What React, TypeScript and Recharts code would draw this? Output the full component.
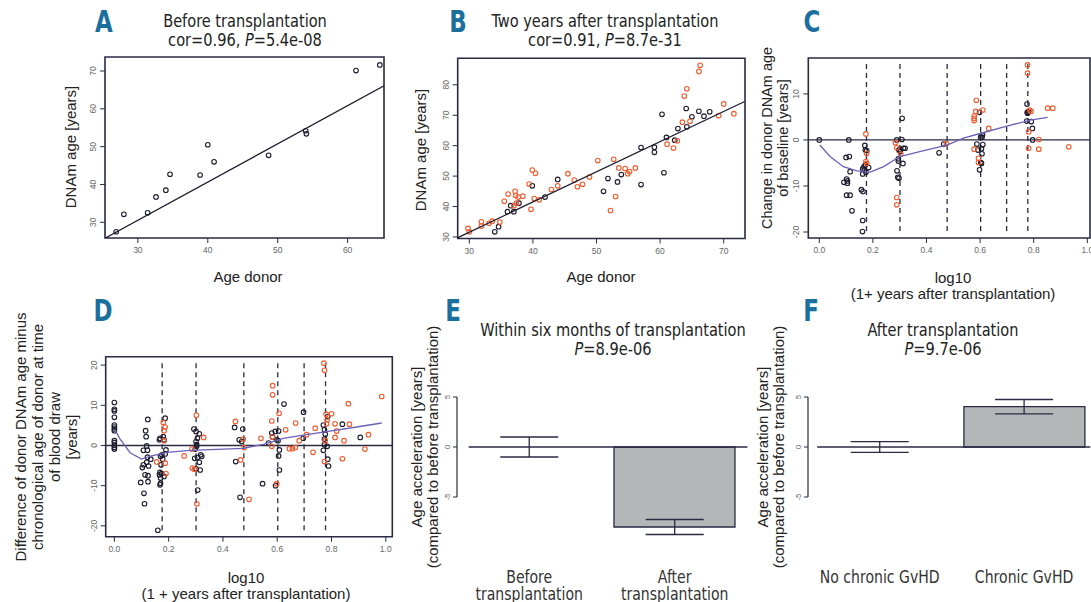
import React from 'react';
import {
  ScatterChart, Scatter, ComposedChart, Bar, ErrorBar,
  XAxis, YAxis, ReferenceLine, ReferenceArea,
} from 'recharts';

const PAGE_W = 1091;
const PAGE_H = 602;
const AXW = 30;
const AXH = 30;

const BLACK = '#1c1c2e';
const ORANGE = '#f05a2c';
const LOESS = '#6a62b8';
const FRAME = '#2a2a44';
const BLUE = '#1b6f9c';
const NARROW = "'Liberation Sans Narrow', 'DejaVu Sans Condensed', sans-serif";
const SANS = "'Liberation Sans', Arial, sans-serif";

// A: before transplantation, donor age vs DNAm age
const aPoints = [
  [26.9, 27.5], [28.0, 32.1], [31.4, 32.5], [32.6, 36.7], [34.0, 38.5], [34.6, 42.7], [38.9, 42.5],
  [40.0, 50.5], [40.9, 46.0], [48.7, 47.7], [54.0, 54.2], [54.1, 53.4], [61.2, 70.1], [64.6, 71.6],
];
const aFit = [[25.3, 25.8], [65.2, 66.1]];

// B: two years after transplantation
const bBlack = [
  [34.0, 31.7], [34.6, 33.4], [36.0, 38.3], [36.5, 40.3], [37.0, 38.3], [37.8, 41.1], [39.9, 46.8],
  [41.9, 43.1], [43.9, 48.9], [51.1, 45.0], [51.8, 49.2], [53.3, 48.1], [53.9, 50.5], [57.0, 59.4],
  [57.0, 47.2], [59.1, 57.8], [59.1, 59.5], [60.3, 70.3], [60.6, 51.1], [61.0, 62.7], [62.3, 61.8],
  [62.8, 65.6], [64.1, 72.2], [64.2, 66.2], [65.0, 69.5], [66.1, 71.3], [66.9, 69.7], [67.8, 71.1],
];
const bOrange = [
  [29.8, 32.8], [30.0, 31.7], [31.9, 35.0], [31.9, 33.6], [33.1, 34.5], [33.6, 35.2], [34.8, 34.9],
  [35.5, 41.7], [36.1, 44.1], [37.0, 40.3], [37.2, 45.0], [37.3, 43.6], [37.4, 41.1], [38.4, 43.4],
  [37.7, 43.1], [39.4, 47.4], [39.7, 39.1], [39.9, 52.0], [40.2, 42.6], [40.4, 50.9], [41.0, 42.2],
  [42.9, 45.6], [43.9, 46.8], [45.5, 50.8], [46.5, 48.7], [47.0, 46.5], [47.8, 47.3], [48.9, 49.7],
  [50.2, 55.1], [52.2, 38.7], [52.7, 55.5], [53.0, 43.3], [53.5, 52.7], [54.5, 52.5], [54.9, 50.8],
  [55.2, 51.5], [56.1, 52.7], [61.1, 60.5], [62.1, 59.2], [62.7, 61.6], [63.5, 67.7], [63.8, 76.3],
  [64.2, 78.7], [64.7, 68.0], [66.1, 84.4], [66.3, 86.4], [69.2, 69.9], [70.0, 73.7], [71.6, 70.5],
];
const bFit = [[28.2, 29.8], [73.3, 74.5]];

// log10(1 + years) marks drawn as dashed lines in C and D
const yearMarks = [0.176, 0.301, 0.477, 0.602, 0.699, 0.778];

// C: change in donor DNAm age relative to baseline
const cBlack = [
  [0, 0], [0.110, 0], [0.100, -3.8], [0.112, -3.6], [0.115, -6.9], [0.092, -9.2], [0.102, -8.5],
  [0.105, -8.9], [0.105, -9.4], [0.102, -12.0], [0.115, -12.0], [0.122, -15.4], [0.157, -10.8],
  [0.163, -11.2], [0.162, -17.5], [0.161, -19.9], [0.170, -1.2], [0.172, -2.2], [0.177, -2.3],
  [0.167, -5.8], [0.162, -6.3], [0.168, -6.5], [0.174, -7.0], [0.162, -7.4], [0.184, -6.0],
  [0.172, -5.4], [0.289, 0], [0.301, -2.0], [0.297, -2.2], [0.309, 4.7], [0.308, 0.1], [0.314, -1.8],
  [0.320, -1.8], [0.295, -4.1], [0.295, -4.6], [0.290, -6.7], [0.293, -8.1], [0.297, -8.3],
  [0.312, -5.1], [0.302, -2.5], [0.447, -2.8], [0.464, -0.9], [0.598, 6.0], [0.602, 0.6],
  [0.609, 1.1], [0.607, 0.6], [0.610, -1.0], [0.588, -0.9], [0.592, -2.2], [0.605, -1.9],
  [0.607, -3.0], [0.603, -4.9], [0.605, -5.1], [0.598, -6.5], [0.775, 7.8], [0.776, 6.0],
  [0.777, 5.8], [0.774, 4.1], [0.791, 4.0], [0.795, 2.5], [0.796, 0.0], [0.781, 6.2],
];
const cOrange = [
  [0.174, 1.3], [0.177, -2.9], [0.174, -4.7], [0.177, -5.1], [0.284, -0.6], [0.289, -1.7],
  [0.289, -12.5], [0.289, -14.1], [0.304, -3.1], [0.474, -0.8], [0.586, 8.6], [0.584, 6.2],
  [0.578, 5.2], [0.578, 4.7], [0.578, 4.2], [0.578, -2.0], [0.594, -4.0], [0.594, -4.9],
  [0.610, 6.5], [0.632, 2.5], [0.777, 16.3], [0.777, 14.5], [0.785, 6.5], [0.790, 6.2],
  [0.781, 1.8], [0.781, -1.8], [0.819, 0.1], [0.819, -2.0], [0.852, 6.9], [0.871, 6.9], [0.931, -1.5],
];
const cLoess = [
  [0.002, -1.1], [0.04, -3.6], [0.09, -5.8], [0.14, -6.7], [0.19, -7.0], [0.24, -5.8], [0.30, -3.6],
  [0.39, -2.3], [0.476, -1.1], [0.538, 0.4], [0.60, 1.4], [0.70, 3.0], [0.787, 4.3], [0.852, 4.9],
];

// D: DNAm age minus chronological age of donor at blood draw
const dBlack = [
  [0, 10.7], [0, 9.0], [0, 8.6], [0, 7.0], [0, 5.1], [0, 4.6], [0, 4.1], [0, 3.7], [0, 1.2], [0, 0.7],
  [0, 0], [0, -0.5], [0, -0.9],
  [0.097, -9.2], [0.103, -5.5], [0.107, -4.8], [0.109, -11.9], [0.111, -14.5], [0.107, -1.2],
  [0.113, -7.3], [0.115, 3.7], [0.117, 2.2], [0.119, -0.1], [0.122, -2.9], [0.123, 6.5],
  [0.122, -1.2], [0.124, -7.5], [0.124, -9.0], [0.126, -5.1], [0.119, -4.2], [0.134, -3.4],
  [0.160, -21.1], [0.166, 1.4], [0.168, 1.8], [0.170, -9.4], [0.168, -9.8], [0.170, -8.1],
  [0.168, -6.7], [0.174, -7.0], [0.172, -4.8], [0.175, -2.3], [0.170, -2.7], [0.178, -3.4],
  [0.180, 2.2], [0.183, 1.4], [0.187, 6.8], [0.187, -2.1], [0.190, -1.1], [0.166, -7.3], [0.183, -7.7],
  [0.293, 4.1], [0.301, 3.5], [0.313, 2.9], [0.301, 1.0], [0.306, 1.8], [0.303, -0.2], [0.298, -0.9],
  [0.296, -3.2], [0.306, -3.0], [0.313, -4.2], [0.318, -2.3], [0.322, -2.7], [0.301, -5.8],
  [0.316, -6.1], [0.307, -11.1], [0.303, 0.2],
  [0.443, 4.5], [0.473, 4.1], [0.460, 1.4], [0.469, 1.0], [0.447, -4.0], [0.463, -12.9],
  [0.546, -9.5], [0.568, 0.6], [0.580, 3.1], [0.583, 2.1], [0.593, 3.5], [0.598, 1.4], [0.603, 1.2],
  [0.605, 3.6], [0.608, -1.1], [0.605, -2.6], [0.608, -6.1], [0.594, -10.0], [0.625, 10.3],
  [0.696, 1.8], [0.697, 8.3], [0.770, 5.1], [0.774, 3.9], [0.777, 2.8], [0.774, 1.6], [0.774, 0.2],
  [0.770, -1.2], [0.786, 7.2], [0.784, -0.2], [0.786, -3.4], [0.789, -5.1], [0.840, 5.3], [0.906, 2.0],
];
const dOrange = [
  [0.180, 5.7], [0.183, 3.7], [0.183, 1.2], [0.187, 4.6], [0.187, -4.4], [0.190, -7.0], [0.156, -4.1],
  [0.257, -2.6], [0.286, -0.9], [0.287, -5.6], [0.295, -5.9], [0.302, 7.5], [0.304, -14.5],
  [0.329, 2.0], [0.446, 6.0], [0.465, -3.6], [0.475, 1.6], [0.478, -0.5], [0.496, -13.4],
  [0.540, 1.8], [0.580, 6.1], [0.583, 12.6], [0.583, 14.9], [0.580, -0.2], [0.582, 2.1],
  [0.607, 8.0], [0.598, -9.5], [0.631, 3.9], [0.645, -0.8], [0.656, -0.8], [0.667, -0.5],
  [0.668, 5.6], [0.681, 1.2], [0.708, 2.7], [0.732, -1.7], [0.740, 4.3], [0.772, 20.5],
  [0.774, 18.7], [0.774, -4.0], [0.777, 1.2], [0.780, 7.8], [0.782, 5.4], [0.784, 6.4], [0.800, 7.9],
  [0.813, 5.4], [0.819, 3.6], [0.813, 2.0], [0.840, -3.3], [0.846, 1.2], [0.862, 10.4], [0.866, 5.3],
  [0.923, -0.9], [0.936, 2.7], [0.985, 12.2],
];
const dLoess = [
  [0.002, 3.9], [0.021, 1.6], [0.058, -1.8], [0.10, -3.4], [0.138, -2.6], [0.193, -1.7], [0.279, -1.2],
  [0.401, -0.9], [0.475, -0.7], [0.549, 0.3], [0.622, 1.8], [0.708, 2.7], [0.794, 3.6], [0.893, 4.6],
  [0.985, 5.6],
];

// E / F: age acceleration bars (mean and standard error)
const barPos = [0.7, 1.9];
const eLabels = ['Before\ntransplantation', 'After\ntransplantation'];
const eMeans = [0, -8.0];
const eErrors = [1.0, 0.75];
const fLabels = ['No chronic GvHD', 'Chronic GvHD'];
const fMeans = [0, 4.03];
const fErrors = [0.53, 0.72];

const toXY = (pts: number[][]) => pts.map(([x, y]) => ({ x, y }));
const fmt1 = (v: number) => v.toFixed(1);

const RotTick = (props: any) => {
  const { x, y, payload, fontSize = 8.5 } = props;
  return (
    <text x={x} y={y} transform={`rotate(-90 ${x} ${y})`} textAnchor="middle"
      fontSize={fontSize} fill="#666" fontFamily={SANS}>{payload.value}</text>
  );
};

const circle = (color: string) => (p: any) => (
  <circle cx={p.cx} cy={p.cy} r={2.3} fill="none" stroke={color} strokeWidth={1.1} />
);
const noDot = () => <g />;

function Txt({ x, y, size = 15, font = SANS, rotate = false, bold = false, color = '#222', lh, sx = 1, children }: any) {
  return (
    <div style={{
      position: 'absolute', left: x, top: y, fontSize: size, fontFamily: font, color,
      transform: `translate(-50%, -50%)${rotate ? ' rotate(-90deg)' : ''}${sx !== 1 ? ` scaleX(${sx})` : ''}`,
      whiteSpace: 'pre', textAlign: 'center', lineHeight: lh ? `${lh}px` : 1.15,
      fontWeight: bold ? 700 : 400,
    }}>{children}</div>
  );
}

function ScatterPanel({ rect, xDomain, yDomain, xTicks, yTicks, xFmt, points, lines, marks, markSpan, zero }: any) {
  const [x0, y0, x1, y1] = rect;
  return (
    <div style={{ position: 'absolute', left: 0, top: 0 }}>
      <ScatterChart width={PAGE_W} height={PAGE_H}
        margin={{ left: x0 - AXW, top: y0, right: PAGE_W - x1, bottom: PAGE_H - y1 - AXH }}>
        <XAxis type="number" dataKey="x" domain={xDomain} ticks={xTicks} allowDataOverflow interval={0}
          axisLine={false} tickLine={{ stroke: FRAME }} tickSize={5} tickMargin={4} height={AXH}
          tick={{ fontSize: 8.5, fill: '#666', fontFamily: SANS }} tickFormatter={xFmt} />
        <YAxis type="number" dataKey="y" domain={yDomain} ticks={yTicks} allowDataOverflow interval={0}
          axisLine={false} tickLine={{ stroke: FRAME }} tickSize={5} tickMargin={4} width={AXW}
          tick={<RotTick />} />
        {zero && <ReferenceLine y={0} stroke={FRAME} strokeWidth={1.3} />}
        {marks && marks.map((m: number) => (
          <ReferenceLine key={m} segment={[{ x: m, y: markSpan[0] }, { x: m, y: markSpan[1] }]}
            stroke={FRAME} strokeWidth={1.3} strokeDasharray="5 4" />
        ))}
        {points.map((s: any, i: number) => (
          <Scatter key={'p' + i} data={toXY(s.data)} shape={circle(s.color)} isAnimationActive={false} />
        ))}
        {lines.map((s: any, i: number) => (
          <Scatter key={'l' + i} data={toXY(s.data)} line={{ stroke: s.color, strokeWidth: 1.3 }}
            shape={noDot} isAnimationActive={false} />
        ))}
        <ReferenceArea x1={xDomain[0]} x2={xDomain[1]} y1={yDomain[0]} y2={yDomain[1]} ifOverflow="visible"
          fill="none" stroke={FRAME} strokeWidth={1.6} />
      </ScatterChart>
    </div>
  );
}

function BarPanel({ plotLeft, plotRight, xDomain, labels, means, errors, zeroSeg }: any) {
  const data = barPos.map((p, i) => ({ pos: p, mean: means[i], err: errors[i] }));
  const top = 367;
  const bottom = 547;
  const xh = 50;
  const CatTick = (props: any) => {
    const { x, y, payload } = props;
    const lines = labels[barPos.indexOf(payload.value)].split('\n');
    return (
      <text x={x} y={y + 36} textAnchor="middle" fontFamily={NARROW} fontSize={17} fill="#333"
        transform={`translate(${x} 0) scale(0.92 1) translate(${-x} 0)`}>
        {lines.map((l: string, i: number) => <tspan key={i} x={x} dy={i === 0 ? 0 : 17}>{l}</tspan>)}
      </text>
    );
  };
  return (
    <div style={{ position: 'absolute', left: 0, top: 0 }}>
      <ComposedChart width={PAGE_W} height={PAGE_H} data={data}
        margin={{ left: plotLeft - AXW, top, right: PAGE_W - plotRight, bottom: PAGE_H - bottom - xh }}>
        <XAxis type="number" dataKey="pos" domain={xDomain} ticks={barPos} allowDataOverflow interval={0}
          axisLine={false} tickLine={false} tickSize={0} tickMargin={0} height={xh} tick={<CatTick />} />
        <YAxis type="number" domain={[-10, 8]} ticks={[-5, 0, 5]} allowDataOverflow interval={0}
          axisLine={false} tickLine={{ stroke: FRAME }} tickSize={4} tickMargin={3} width={AXW}
          tick={<RotTick fontSize={8} />} />
        <Bar dataKey="mean" barSize={121} fill="#b4b6b7" stroke={FRAME} strokeWidth={1.3} isAnimationActive={false} />
        <ReferenceLine segment={[{ x: zeroSeg[0], y: 0 }, { x: zeroSeg[1], y: 0 }]} stroke={FRAME} strokeWidth={1.3} />
        <Scatter dataKey="mean" shape={noDot} isAnimationActive={false}>
          <ErrorBar dataKey="err" width={29} stroke={FRAME} strokeWidth={1.3} direction="y" />
        </Scatter>
        <ReferenceLine segment={[{ x: xDomain[0], y: -5 }, { x: xDomain[0], y: 5 }]} stroke={FRAME}
          strokeWidth={1.2} ifOverflow="visible" />
      </ComposedChart>
    </div>
  );
}

const Title = ({ x, line1, stat, y = 21 }: any) => (
  <>
    {line1 && <Txt x={x} y={y} size={18} font={NARROW} sx={0.9}>{line1}</Txt>}
    <Txt x={x} y={y + 19} size={18} font={NARROW} sx={0.9}>{stat}</Txt>
  </>
);

const Letter = ({ x, y, children }: any) => (
  <Txt x={x} y={y} size={30} font={NARROW} bold color={BLUE} sx={0.85}>{children}</Txt>
);

export default function App() {
  return (
    <div style={{ position: 'fixed', left: 0, top: 0, width: PAGE_W, height: PAGE_H, overflow: 'hidden', background: '#fff' }}>
      <ScatterPanel rect={[105, 57, 384, 238]} xDomain={[25.3, 65.2]} yDomain={[25.85, 73.7]}
        xTicks={[30, 40, 50, 60]} yTicks={[30, 40, 50, 60, 70]}
        points={[{ data: aPoints, color: BLACK }]} lines={[{ data: aFit, color: BLACK }]} />
      <ScatterPanel rect={[457.7, 58.3, 745, 238.5]} xDomain={[28.17, 73.35]} yDomain={[29.5, 88.7]}
        xTicks={[30, 40, 50, 60, 70]} yTicks={[30, 40, 50, 60, 70, 80]}
        points={[{ data: bBlack, color: BLACK }, { data: bOrange, color: ORANGE }]}
        lines={[{ data: bFit, color: BLACK }]} />
      <ScatterPanel rect={[808.3, 58, 1090, 238]} xDomain={[-0.041, 1.01]} yDomain={[-21.3, 17.8]}
        xTicks={[0, 0.2, 0.4, 0.6, 0.8, 1.0]} yTicks={[-20, -10, 0, 10]} xFmt={fmt1}
        points={[{ data: cBlack, color: BLACK }, { data: cOrange, color: ORANGE }]}
        lines={[{ data: cLoess, color: LOESS }]} marks={yearMarks} markSpan={[16.5, -20]} zero />
      <ScatterPanel rect={[105.7, 356.7, 392.3, 536.7]} xDomain={[-0.032, 1.024]} yDomain={[-22.7, 22.1]}
        xTicks={[0, 0.2, 0.4, 0.6, 0.8, 1.0]} yTicks={[-20, -10, 0, 10, 20]} xFmt={fmt1}
        points={[{ data: dBlack, color: BLACK }, { data: dOrange, color: ORANGE }]}
        lines={[{ data: dLoess, color: LOESS }]} marks={yearMarks} markSpan={[20.5, -21.5]} zero />
      <BarPanel plotLeft={457} plotRight={771.2} xDomain={[0.104, 2.696]}
        labels={eLabels} means={eMeans} errors={eErrors} zeroSeg={[0.2, 2.5]} />
      <BarPanel plotLeft={808} plotRight={1091} xDomain={[0.104, 2.456]}
        labels={fLabels} means={fMeans} errors={fErrors} zeroSeg={[0.18, 2.45]} />

      <Letter x={104} y={22}>A</Letter>
      <Letter x={458} y={22}>B</Letter>
      <Letter x={812} y={22}>C</Letter>
      <Letter x={103} y={311}>D</Letter>
      <Letter x={453} y={311}>E</Letter>
      <Letter x={811} y={311}>F</Letter>

      <Title x={245} line1="Before transplantation" stat={<>cor=0.96, <i>P</i>=5.4e-08</>} />
      <Title x={605} line1="Two years after transplantation" stat={<>cor=0.91, <i>P</i>=8.7e-31</>} />
      <Title x={613} y={330} line1="Within six months of transplantation" stat={<><i>P</i>=8.9e-06</>} />
      <Title x={943} y={330} line1="After transplantation" stat={<><i>P</i>=9.7e-06</>} />

      <Txt x={71} y={147} rotate>DNAm age [years]</Txt>
      <Txt x={248} y={277}>Age donor</Txt>
      <Txt x={421} y={150} rotate>DNAm age [years]</Txt>
      <Txt x={601} y={277}>Age donor</Txt>
      <Txt x={775} y={138} rotate lh={16} size={14.5}>{'Change in donor DNAm age\nof baseline [years]'}</Txt>
      <Txt x={953} y={286} lh={16}>{'log10\n(1+ years after transplantation)'}</Txt>
      <Txt x={45.5} y={437} rotate lh={17}>
        {'Difference of donor DNAm age minus\nchronological age of donor at time\nof blood draw\n[years]'}
      </Txt>
      <Txt x={246} y={586} lh={16}>{'log10\n(1 + years after transplantation)'}</Txt>
      <Txt x={425} y={447} rotate lh={16}>{'Age acceleration [years]\n(compared to before transplantation)'}</Txt>
      <Txt x={771} y={447} rotate lh={16}>{'Age acceleration [years]\n(compared to before transplantation)'}</Txt>
    </div>
  );
}
